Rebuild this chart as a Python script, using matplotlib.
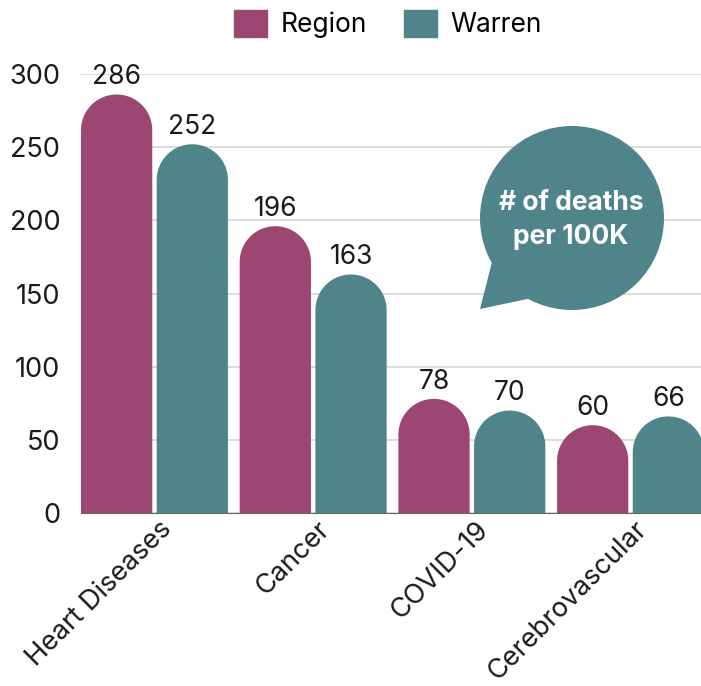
import matplotlib.pyplot as plt
from matplotlib.patches import Patch, Circle, Polygon
import matplotlib.transforms as mtransforms
import numpy as np

categories = ["Heart Diseases", "Cancer", "COVID-19", "Cerebrovascular"]
region = [286, 196, 78, 60]
warren = [252, 163, 70, 66]
series_names = ["Region", "Warren"]
yticks = [0, 50, 100, 150, 200, 250, 300]
bubble_text = "# of deaths\nper 100K"

REGION_COLOR = "#9c4672"
WARREN_COLOR = "#4e848a"

plt.rcParams['font.family'] = ['Inter', 'DejaVu Sans']

W, H = 701, 686
fig = plt.figure(figsize=(W / 100, H / 100), dpi=100)
ax = fig.add_axes([81 / W, 1 - 513 / H, (701 - 81) / W, (513 - 74) / H])

x = np.arange(len(categories))
bw = 0.449
gap = 0.028
off = (bw + gap) / 2
xlim = (-0.463, 3.444)
ax.set_xlim(*xlim)
ax.set_ylim(0, 300)

# pixels per data unit, so the bar tops come out as real semicircles
px_x = (701 - 81) / (xlim[1] - xlim[0])
px_y = (513 - 74) / 300.0


def rounded_bar(xc, h, w, color):
    rx = w / 2
    ry = min(rx * px_x / px_y, h)
    t = np.linspace(0, np.pi, 80)
    xs = [xc - rx, xc + rx] + list(xc + rx * np.cos(t))
    ys = [0, 0] + list(h - ry + ry * np.sin(t))
    ax.fill(xs, ys, color=color, lw=0, zorder=3)
    ax.annotate(str(h), (xc, h), xytext=(0, 3), textcoords='offset points',
                ha='center', va='bottom', fontsize=19, color='#1a1a1a',
                annotation_clip=False)


for i in range(len(categories)):
    rounded_bar(x[i] - off, region[i], bw, REGION_COLOR)
    rounded_bar(x[i] + off, warren[i], bw, WARREN_COLOR)

ax.set_yticks(yticks)
ax.yaxis.grid(True, color='#d6d6d6', lw=1.2)
ax.set_axisbelow(True)
for s in ['top', 'right', 'left']:
    ax.spines[s].set_visible(False)
ax.spines['bottom'].set_color('#666666')
ax.tick_params(axis='y', length=0, pad=15, labelsize=19.5, labelcolor='#1a1a1a')
ax.tick_params(axis='x', length=0, pad=9, labelsize=19.5, labelcolor='#1a1a1a')
ax.set_xticks(x)
ax.set_xticklabels(categories, rotation=45, ha='right', va='center',
                   rotation_mode='anchor')
shift = mtransforms.ScaledTranslation(13 / 100, 0, fig.dpi_scale_trans)
for lbl in ax.get_xticklabels():
    lbl.set_transform(lbl.get_transform() + shift)

handles = [Patch(color=REGION_COLOR), Patch(color=WARREN_COLOR)]
fig.legend(handles, series_names, loc='center', bbox_to_anchor=(388 / W, 1 - 24 / H),
           ncol=2, frameon=False, fontsize=19, handlelength=1.25, handleheight=1.25,
           handletextpad=0.5, columnspacing=1.4)

# speech bubble drawn in pixel coordinates
ov = fig.add_axes([0, 0, 1, 1])
ov.set_xlim(0, W)
ov.set_ylim(H, 0)
ov.axis('off')
ov.add_patch(Circle((572, 218), 92, color=WARREN_COLOR, lw=0))
ov.add_patch(Polygon([(480, 309), (492, 262), (532, 298)], closed=True,
                     color=WARREN_COLOR, lw=0))
ov.text(571, 220, bubble_text, ha='center', va='center', color='white',
        fontsize=19, fontweight='bold', linespacing=1.35)

fig.savefig('out.png', dpi=100)
